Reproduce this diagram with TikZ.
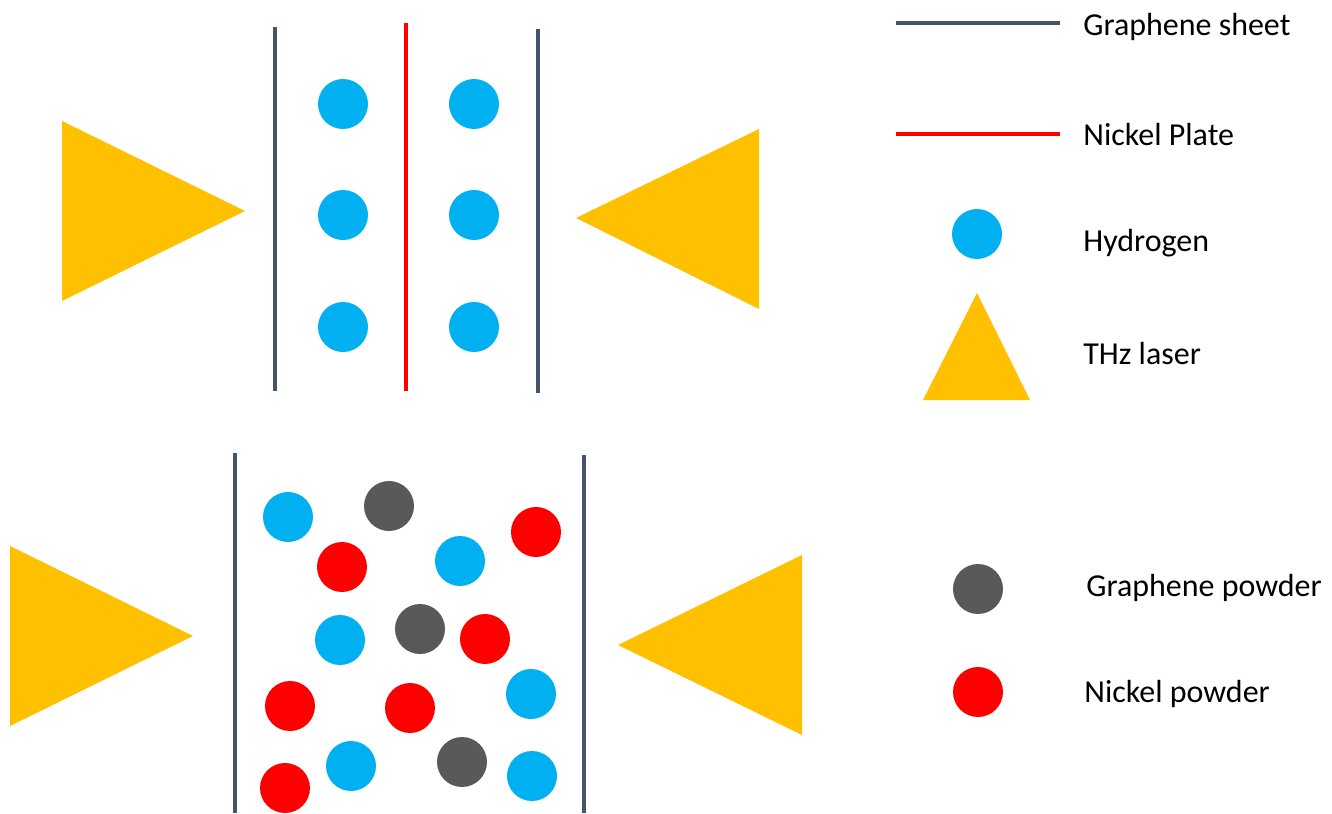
\documentclass[tikz,border=0pt]{standalone}
\usepackage{fontspec}
\setmainfont{Carlito}
\usepackage{tikz}
\usetikzlibrary{positioning}
\definecolor{sheetblue}{RGB}{68,84,106}
\definecolor{hblue}{RGB}{0,176,240}
\definecolor{lasergold}{RGB}{255,192,0}
\definecolor{gpowgray}{RGB}{89,89,89}
\definecolor{nired}{RGB}{255,0,0}
\tikzset{
  sheet/.style={draw=sheetblue,line width=2.3pt},
  plate/.style={draw=nired,line width=2.3pt},
  ball/.style={circle,minimum size=1cm,inner sep=0pt},
  hyd/.style={ball,fill=hblue},
  gpow/.style={ball,fill=gpowgray},
  nipow/.style={ball,fill=nired},
  laser/.style={fill=lasergold},
  lbl/.style={anchor=west,inner sep=0pt,font=\fontsize{18.2}{22}\selectfont},
}
\begin{document}
\begin{tikzpicture}[x=0.02cm,y=-0.02cm]
\useasboundingbox (0,0) rectangle (1332,814);
% top: sheets and plate
\coordinate (s1t) at (275,27);  \coordinate (s1b) at (275,391);
\coordinate (npt) at (406,23);  \coordinate (npb) at (406,391);
\coordinate (s2t) at (538,29);  \coordinate (s2b) at (538,393);
\draw[sheet] (s1t) -- (s1b);
\draw[plate] (npt) -- (npb);
\draw[sheet] (s2t) -- (s2b);
\foreach \y [count=\i] in {104,215,327}{
  \node[hyd] (hl\i) at (343,\y) {};
  \node[hyd] (hr\i) at (474,\y) {};
}
\fill[laser] (62,121) -- (62,301) -- (245,211) -- cycle;
\fill[laser] (759,129) -- (759,309) -- (576,218) -- cycle;
% bottom: powder mix
\coordinate (b1t) at (235,453); \coordinate (b1b) at (235,813);
\coordinate (b2t) at (584,455); \coordinate (b2b) at (584,813);
\draw[sheet] (b1t) -- (b1b);
\draw[sheet] (b2t) -- (b2b);
\foreach \s/\x/\y [count=\i] in {hyd/288/517,gpow/389/506,nipow/536/532,nipow/342/567,hyd/460/561,
  hyd/340/640,gpow/420/629,nipow/485/639,nipow/290/706,nipow/410/708,hyd/531/694,
  nipow/285/788,hyd/351/766,gpow/462/762,hyd/532/776}{
  \node[\s] (p\i) at (\x,\y) {};
}
\fill[laser] (10,546) -- (10,726) -- (193,636) -- cycle;
\fill[laser] (802,555) -- (802,735) -- (618,645) -- cycle;
% legend
\coordinate (lg1a) at (896,23);  \coordinate (lg1b) at (1060,23);
\coordinate (lg2a) at (896,134); \coordinate (lg2b) at (1060,134);
\draw[sheet,line width=1.8pt] (lg1a) -- (lg1b);
\draw[plate,line width=1.8pt] (lg2a) -- (lg2b);
\node[hyd] (lgh) at (977,234) {};
\fill[laser] (923,400) -- (1030,400) -- (977,293) -- cycle;
\node[gpow] (lgg) at (978,589) {};
\node[nipow] (lgn) at (978,692) {};
\node[lbl] (tsheet) at (1083,27) {Graphene sheet};
\node[lbl] (tplate) at (1083,135) {Nickel Plate};
\node[lbl] (thyd) at (1083,243) {Hydrogen};
\node[lbl] (tlaser) at (1083,354) {THz laser};
\node[lbl] (tgpow) at (1086,588) {Graphene powder};
\node[lbl] (tnipow) at (1084,694) {Nickel powder};
\end{tikzpicture}
\end{document}
